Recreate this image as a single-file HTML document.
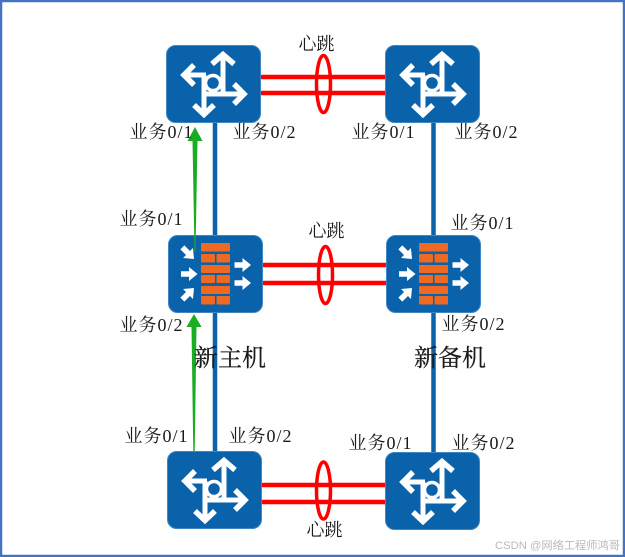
<!DOCTYPE html>
<html lang="zh">
<head>
<meta charset="utf-8">
<title>双机热备拓扑</title>
<style>
html,body{margin:0;padding:0;background:#fff}
svg{display:block}
text{font-family:"Liberation Serif","Noto Serif CJK SC",serif;fill:#1a1a1a}
.l{font-size:18px}
.x{font-size:17px}
.h{font-size:24px;stroke:#1a1a1a;stroke-width:.25px}
.w{font-family:"Liberation Sans","Noto Sans CJK SC",sans-serif;font-size:11px;fill:#b9b9b9}
</style>
</head>
<body>
<svg width="625" height="557" viewBox="0 0 625 557" xmlns="http://www.w3.org/2000/svg">
<defs>
<path id="ah" d="M-8 -2.800H0V-7L8.500 0L0 7V2.800H-8Z" fill="#fff"/>
<g id="sw">
<rect x="0.5" y="0.5" width="94" height="77" rx="9" fill="#0a62ab" stroke="#3f86c2"/>
<g fill="none" stroke="#fff" stroke-width="5">
<path d="M57 9V49"/>
<path d="M46 19L57 9.500L68 19" stroke-width="5.500"/>
<path d="M18 30H40"/>
<path d="M28 20L18 30L28 40" stroke-width="5.500"/>
<path d="M38 30V69"/>
<path d="M28 60L38 69.500L48 60" stroke-width="5.500"/>
<path d="M38 49H78"/>
<path d="M68 39L78 49L68 59" stroke-width="5.500"/>
<circle cx="47" cy="38" r="7.500" fill="#0a62ab" stroke-width="3.500"/>
</g>
</g>
<g id="fw">
<rect x="0.5" y="0.5" width="94" height="77" rx="9" fill="#0a62ab" stroke="#3f86c2"/>
<g fill="#ee6a22">
<rect x="33" y="8" width="29" height="8.500" rx="1"/>
<rect x="33" y="19" width="14" height="8.500" rx="1"/><rect x="48.500" y="19" width="13.500" height="8.500" rx="1"/>
<rect x="33" y="30" width="29" height="8" rx="1"/>
<rect x="33" y="40" width="14" height="8" rx="1"/><rect x="48.500" y="40" width="13.500" height="8" rx="1"/>
<rect x="33" y="51" width="29" height="8" rx="1"/>
<rect x="33" y="61" width="14" height="8.500" rx="1"/><rect x="48.500" y="61" width="13.500" height="8.500" rx="1"/>
</g>
<use href="#ah" transform="translate(74.500,30)"/>
<use href="#ah" transform="translate(74.500,48)"/>
<use href="#ah" transform="translate(21,39)"/>
<use href="#ah" transform="translate(20,18) rotate(45)"/>
<use href="#ah" transform="translate(20,59) rotate(-45)"/>
</g>
</defs>

<rect x="1" y="1" width="623" height="555" fill="#fff" stroke="#4472c4" stroke-width="2.500"/>

<!-- blue trunks -->
<path d="M215 120V453" stroke="#0a62ab" stroke-width="4.500" fill="none"/>
<path d="M433.500 120V454" stroke="#0a62ab" stroke-width="4.500" fill="none"/>

<!-- red heartbeat lines -->
<g stroke="#ff0000" stroke-width="4.500" stroke-linecap="round" fill="none">
<path d="M262 77H385M262 93H385"/>
<path d="M264 265H387M264 283H387"/>
<path d="M263 485H385M263 502H385"/>
</g>
<g stroke="#ff0000" stroke-width="3.500" fill="none">
<ellipse cx="323.500" cy="84" rx="7" ry="28.500"/>
<ellipse cx="325.500" cy="275" rx="7" ry="28.500"/>
<ellipse cx="323.500" cy="490.500" rx="7" ry="28.500"/>
</g>

<!-- devices -->
<use href="#sw" x="166" y="45"/>
<use href="#sw" x="385" y="45"/>
<use href="#fw" x="168" y="235"/>
<use href="#fw" x="386" y="235"/>
<use href="#sw" x="167" y="451"/>
<use href="#sw" x="385" y="452"/>

<!-- green arrows -->
<path d="M195 127L202.500 141H197.500L195.500 252H194.500L192.500 141H187.500Z" fill="#1aac22"/>
<path d="M194 314L201.500 327H196.500L194.700 452H193.300L191.500 327H186.500Z" fill="#1aac22"/>

<!-- labels -->
<g class="l">
<text x="129.500" y="138" textLength="63" lengthAdjust="spacing">业务0/1</text>
<text x="232.500" y="138" textLength="63" lengthAdjust="spacing">业务0/2</text>
<text x="351.500" y="138" textLength="63" lengthAdjust="spacing">业务0/1</text>
<text x="454.500" y="138" textLength="63" lengthAdjust="spacing">业务0/2</text>
<text x="119.500" y="225" textLength="63" lengthAdjust="spacing">业务0/1</text>
<text x="450.500" y="229" textLength="63" lengthAdjust="spacing">业务0/1</text>
<text x="119.500" y="331" textLength="63" lengthAdjust="spacing">业务0/2</text>
<text x="441.500" y="330" textLength="63" lengthAdjust="spacing">业务0/2</text>
<text x="124.500" y="442" textLength="63" lengthAdjust="spacing">业务0/1</text>
<text x="228.500" y="442" textLength="63" lengthAdjust="spacing">业务0/2</text>
<text x="348.500" y="449" textLength="63" lengthAdjust="spacing">业务0/1</text>
<text x="451.500" y="449" textLength="63" lengthAdjust="spacing">业务0/2</text>
<text x="298.500" y="50">心跳</text>
<text x="308.500" y="237">心跳</text>
<text x="306.500" y="536">心跳</text>
</g>
<text class="h" x="194" y="366">新主机</text>
<text class="h" x="414" y="366">新备机</text>
<text class="w" x="495" y="549" textLength="125" lengthAdjust="spacingAndGlyphs">CSDN @网络工程师鸿哥</text>
</svg>
</body>
</html>
